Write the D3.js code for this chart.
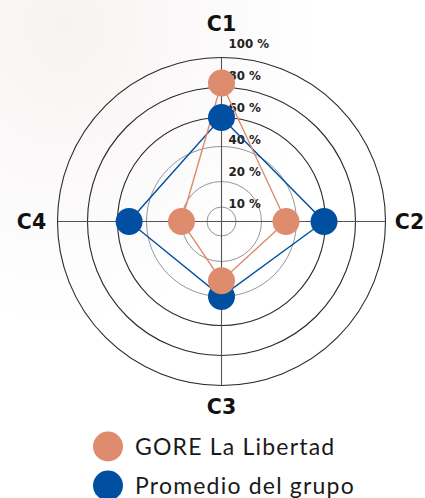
<!DOCTYPE html>
<html>
<head>
<meta charset="utf-8">
<script src="https://cdn.jsdelivr.net/npm/d3@7"></script>
<style>
html,body{margin:0;padding:0;background:#fff;}
svg{display:block;}
</style>
</head>
<body>
<div id="chart"></div>
<script>
// ---- data ----
const categories = ["C1", "C2", "C3", "C4"];
const seriesNames = ["GORE La Libertad", "Promedio del grupo"];
const goreValues = [83, 34, 31, 20];
const promedioValues = [60, 59, 40, 52];
const ringValues = [10, 20, 40, 60, 80, 100];
const tickLabels = ["10 %", "20 %", "40 %", "60 %", "80 %", "100 %"];

// ---- layout ----
const W = 425, H = 498;
const cx = 221.5, cy = 221.5;
const colors = {gore: "#DE8B6E", prom: "#004FA0"};

const svg = d3.select("#chart").append("svg").attr("width", W).attr("height", H);

const defs = svg.append("defs");
const grad = defs.append("radialGradient").attr("id", "bg")
  .attr("cx", "0.15").attr("cy", "0.05").attr("r", "0.6");
grad.append("stop").attr("offset", "0").attr("stop-color", "#f7f3f3");
grad.append("stop").attr("offset", "1").attr("stop-color", "#ffffff");
svg.append("rect").attr("width", W).attr("height", H).attr("fill", "url(#bg)");

// radial scale (rings in the reference are unevenly spaced)
const r = d3.scaleLinear()
  .domain([0, 10, 20, 40, 60, 80, 100])
  .range([0, 14.5, 40, 75, 104, 134, 164]);

const angle = d3.scalePoint().domain(categories).range([0, 2 * Math.PI * 3 / 4]);

const g = svg.append("g").attr("transform", `translate(${cx},${cy})`);

// rings
g.selectAll("circle.ring").data(ringValues).join("circle")
  .attr("class", "ring")
  .attr("r", d => r(d))
  .attr("fill", "none")
  .attr("stroke", (d, i) => i < 3 ? "#8a8a8a" : "#2a2a2a")
  .attr("stroke-width", (d, i) => i < 3 ? 0.9 : 1.1);

// axes
g.selectAll("line.axis").data(categories).join("line")
  .attr("class", "axis")
  .attr("x1", 0).attr("y1", 0)
  .attr("x2", d => r(100) * Math.sin(angle(d)))
  .attr("y2", d => -r(100) * Math.cos(angle(d)))
  .attr("stroke", "#555").attr("stroke-width", 1.1);

// tick labels
const labelY = d3.scalePoint().domain(tickLabels).range([-17.5, -177.5]);
g.selectAll("text.tick").data(tickLabels).join("text")
  .attr("class", "tick")
  .attr("x", 7)
  .attr("y", d => labelY(d))
  .attr("dy", "0.36em")
  .attr("font-family", "'DejaVu Sans', sans-serif")
  .attr("font-weight", 700)
  .attr("font-size", 11.8)
  .attr("fill", "#222")
  .text(d => d);

// category labels
const catOffset = {C1: 197.5, C2: 188, C3: 185.5, C4: 190};
g.selectAll("text.cat").data(categories).join("text")
  .attr("class", "cat")
  .attr("x", d => catOffset[d] * Math.sin(angle(d)))
  .attr("y", d => -catOffset[d] * Math.cos(angle(d)))
  .attr("dy", "0.36em")
  .attr("text-anchor", "middle")
  .attr("font-family", "'DejaVu Sans', sans-serif")
  .attr("font-weight", 700)
  .attr("font-size", 20.5)
  .attr("fill", "#111")
  .text(d => d);

const pt = (v, c) => [r(v) * Math.sin(angle(c)), -r(v) * Math.cos(angle(c))];

const series = [
  {name: seriesNames[1], values: promedioValues, color: colors.prom},
  {name: seriesNames[0], values: goreValues, color: colors.gore}
];

const line = d3.line().curve(d3.curveLinearClosed);
series.forEach(s => {
  const pts = s.values.map((v, i) => pt(v, categories[i]));
  g.append("path").attr("d", line(pts))
    .attr("fill", "none").attr("stroke", s.color).attr("stroke-width", 1.4);
});
series.forEach(s => {
  const pts = s.values.map((v, i) => pt(v, categories[i]));
  g.selectAll(null).data(pts).join("circle")
    .attr("cx", d => d[0]).attr("cy", d => d[1]).attr("r", 13.5)
    .attr("fill", s.color);
});

// legend
const legend = svg.append("g");
const legendItems = [
  {name: seriesNames[0], color: colors.gore},
  {name: seriesNames[1], color: colors.prom}
];
const ly = d3.scalePoint().domain(legendItems.map(d => d.name)).range([446.5, 485.5]);
legendItems.forEach(d => {
  legend.append("circle").attr("cx", 108).attr("cy", ly(d.name)).attr("r", 15).attr("fill", d.color);
  legend.append("text").attr("x", 135).attr("y", ly(d.name)).attr("dy", "0.36em")
    .attr("font-family", "Lato, 'Noto Sans', sans-serif")
    .attr("font-size", 23)
    .attr("letter-spacing", 1.2)
    .attr("fill", "#1a1a1a")
    .text(d.name);
});
</script>
</body>
</html>
